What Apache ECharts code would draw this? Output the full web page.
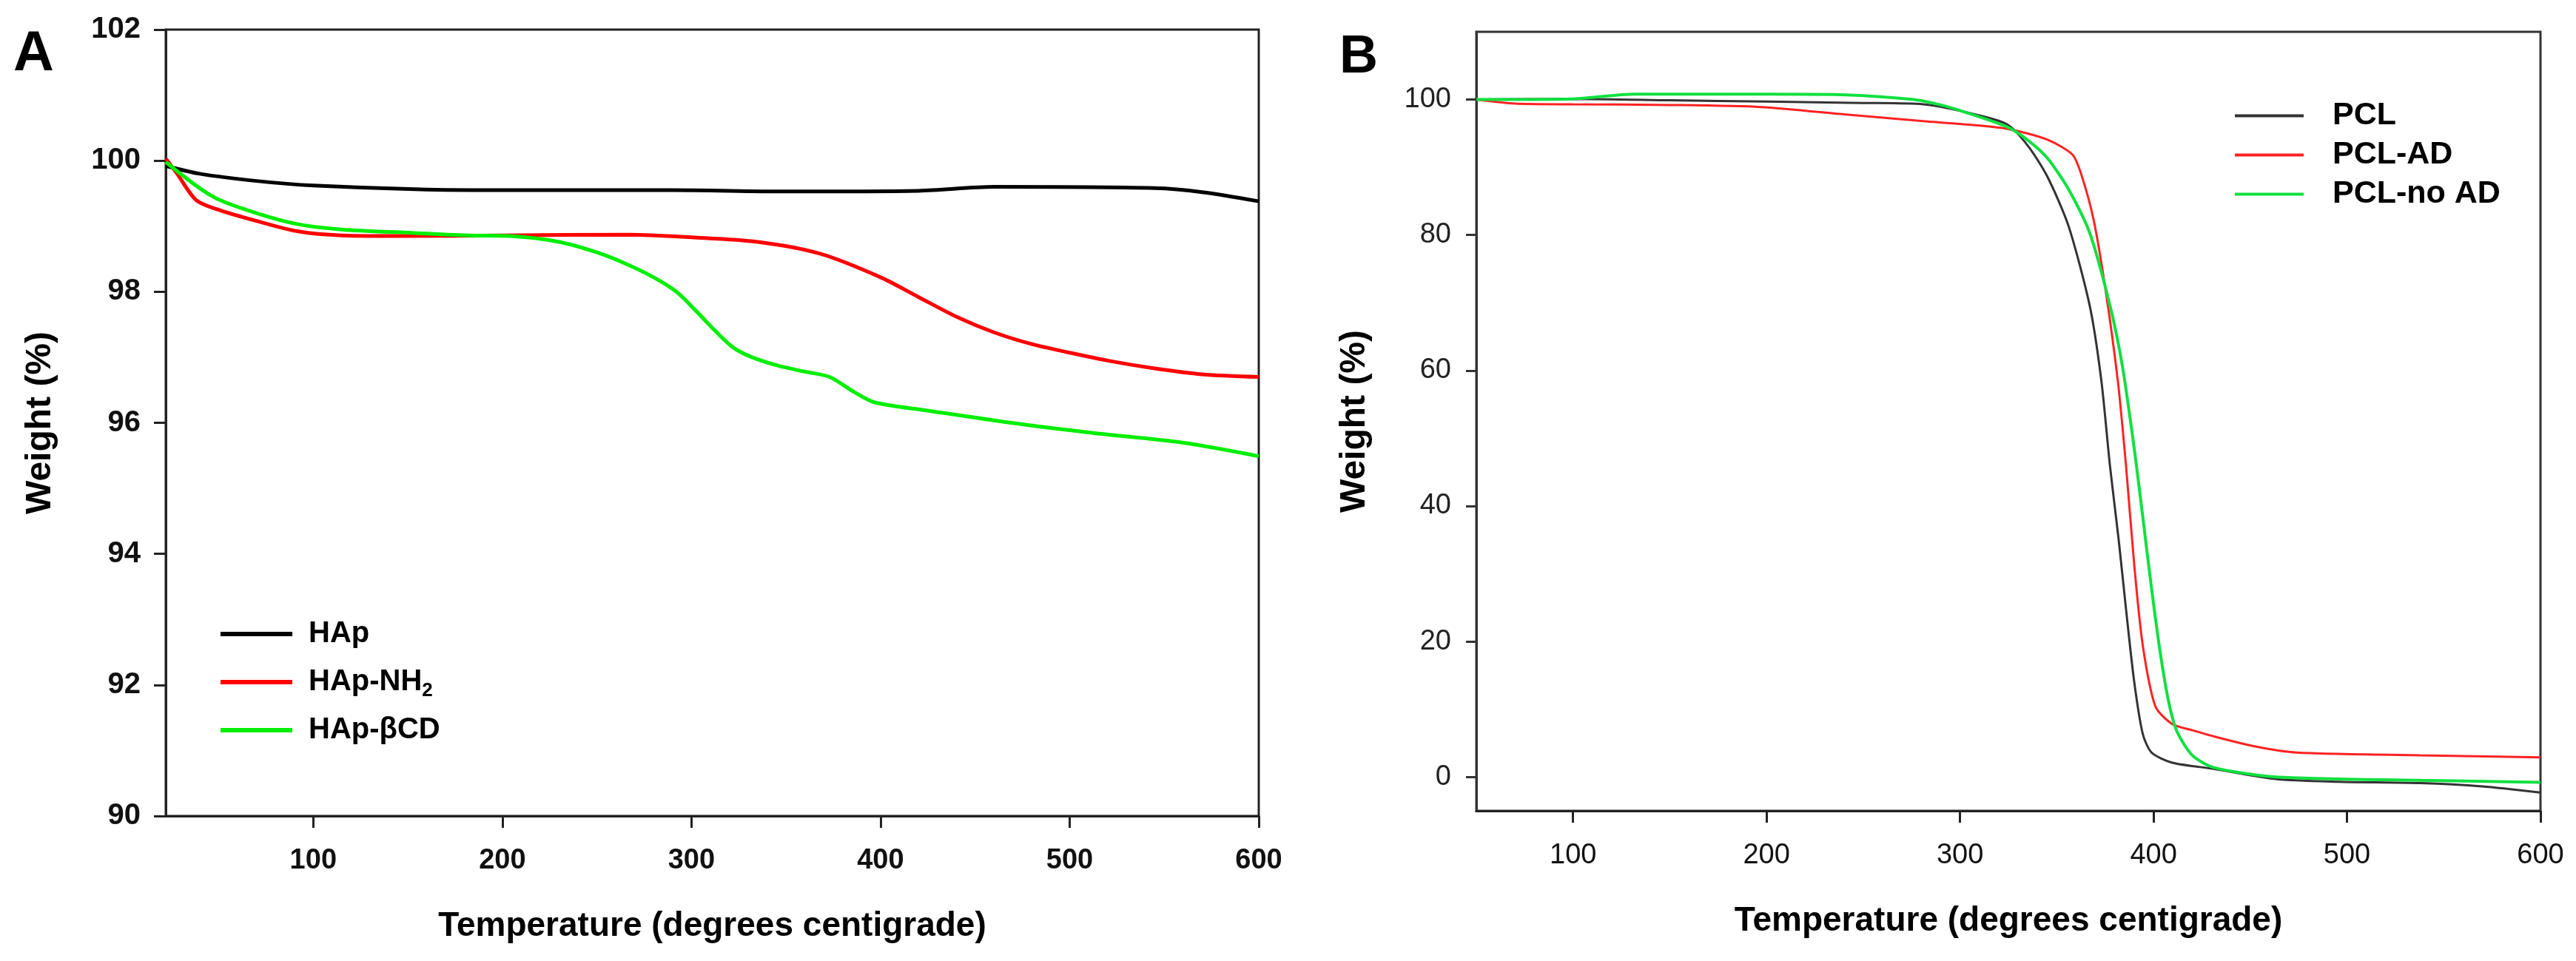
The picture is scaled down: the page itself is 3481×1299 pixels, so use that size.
<!DOCTYPE html>
<html style="height: 100%">
<head>
    <meta charset="utf-8">
</head>
<body style="height: 100%; margin: 0; background: #fff">
<div id="container" style="width: 3481px; height: 1299px"></div>
<script src="https://cdn.jsdelivr.net/npm/echarts@6/dist/echarts.min.js"></script>
<script type="text/javascript">
    var dom = document.getElementById("container");
    var myChart = echarts.init(dom);

    // panel A: HAp samples (temperature, weight %)
    const hapT = [22, 40, 70, 100, 160, 220, 290, 350, 420, 460, 545, 570, 600];
    const hapW = [99.92, 99.8, 99.69, 99.62, 99.56, 99.55, 99.55, 99.53, 99.54, 99.6, 99.58, 99.52, 99.38];

    const nh2T = [22, 28, 38, 50, 70, 92, 115, 150, 200, 267, 300, 335, 368, 400, 420, 440, 460, 480, 500, 520, 545, 570, 600];
    const nh2W = [100.03, 99.8, 99.4, 99.25, 99.08, 98.92, 98.86, 98.85, 98.86, 98.87, 98.83, 98.76, 98.58, 98.22, 97.92, 97.62, 97.38, 97.2, 97.07, 96.95, 96.83, 96.74, 96.7];

    const bcdT = [22, 47, 70, 92, 115, 150, 182, 204, 230, 250, 265, 280, 292, 302, 312, 322, 332, 346, 360, 373, 386, 397, 424, 469, 514, 559, 600];
    const bcdW = [99.98, 99.45, 99.2, 99.03, 98.95, 98.9, 98.86, 98.85, 98.76, 98.6, 98.43, 98.22, 98.0, 97.72, 97.42, 97.15, 97.0, 96.87, 96.78, 96.7, 96.47, 96.31, 96.19, 96.0, 95.84, 95.7, 95.49];

    // panel B: PCL samples
    const pclT = [50, 100, 150, 200, 250, 281, 302, 324, 335, 345, 356, 367, 373, 377.5, 382, 386, 390, 394.4, 399, 409.7, 431, 463, 495.5, 538, 570, 600];
    const pclW = [100, 100.1, 99.9, 99.7, 99.5, 99.3, 98.2, 96.4, 93.2, 88.7, 81.4, 69.6, 58.6, 45.9, 35.0, 24.2, 14.1, 6.4, 3.6, 2.1, 1.2, -0.3, -0.7, -0.9, -1.4, -2.3];

    const adT = [50, 70, 100, 150, 197, 241, 281, 300, 324, 345, 358, 362.5, 369, 375, 381.5, 385.8, 390, 394.4, 401, 409.7, 420, 431, 452.6, 474, 538, 600];
    const adW = [100, 99.4, 99.3, 99.2, 98.9, 97.8, 96.8, 96.4, 95.7, 94.1, 91.9, 89.1, 82.3, 72.3, 58.6, 45.9, 31.4, 19.5, 10.4, 7.8, 6.9, 6.0, 4.5, 3.6, 3.2, 2.9];

    const noadT = [50, 100, 131.7, 200, 241, 276, 290, 302, 324, 334.6, 345, 356, 366.8, 377.5, 384, 390.4, 394.7, 399, 403.3, 407.6, 412, 420, 431, 463, 538, 600];
    const noadW = [100, 100.1, 100.8, 100.8, 100.7, 100, 99.2, 98.2, 96.0, 94.1, 91.4, 86.8, 80.5, 69.6, 60.5, 47.7, 37.8, 27.8, 18.7, 11.4, 6.8, 3.2, 1.4, 0, -0.5, -0.8];

    // tick labels
    const xTicksA = [100, 200, 300, 400, 500, 600];
    const xTicksB = [100, 200, 300, 400, 500, 600];
    const yTicksB = [0, 20, 40, 60, 80, 100];

    function pairs(xs, ys) {
        return xs.map(function (x, i) { return [x, ys[i]]; });
    }

    const font = 'Liberation Sans, Arial, sans-serif';

    function xAxisBase(min, ticks, gridIndex, bold, name) {
        return {
            type: 'value', gridIndex: gridIndex, min: min, max: 600,
            axisLine: {show: true, onZero: false, lineStyle: {color: '#222', width: 3}},
            axisTick: {show: true, customValues: ticks, length: 16, lineStyle: {color: '#222', width: 3}},
            axisLabel: {customValues: ticks, margin: 42, color: '#111', fontSize: 38,
                fontWeight: bold ? 'bold' : 'normal', fontFamily: font},
            splitLine: {show: false},
            name: name, nameLocation: 'middle', nameGap: 126,
            nameTextStyle: {fontSize: 46, fontWeight: 'bold', color: '#000', fontFamily: font}
        };
    }

    var option = {
        backgroundColor: '#fff',
        animation: false,
        title: [
            {text: 'A', left: 18, top: 36, padding: 0,
                textStyle: {fontSize: 76, fontWeight: 'bold', color: '#000', fontFamily: font}},
            {text: 'B', left: 1810, top: 42, padding: 0,
                textStyle: {fontSize: 72, fontWeight: 'bold', color: '#000', fontFamily: font}}
        ],
        grid: [
            {left: 224, right: 1780, top: 40, bottom: 196, show: true, borderColor: '#222', borderWidth: 3,
                outerBoundsMode: 'none'},
            {left: 1995, right: 48, top: 43, bottom: 203, show: true, borderColor: '#333', borderWidth: 3,
                outerBoundsMode: 'none'}
        ],
        legend: [
            {
                orient: 'vertical', left: 293, top: 832, itemGap: 20,
                itemWidth: 97, itemHeight: 6, icon: 'rect',
                data: ['HAp', 'HAp-NH2', 'HAp-βCD'],
                formatter: function (name) {
                    return name === 'HAp-NH2' ? 'HAp-NH{sub|2}' : name;
                },
                textStyle: {fontSize: 40, fontWeight: 'bold', color: '#000', fontFamily: font,
                    padding: [0, 0, 0, 17], lineHeight: 40,
                    rich: {sub: {fontSize: 26, fontWeight: 'bold', fontFamily: font, color: '#000',
                        padding: [24, 0, 0, 0], lineHeight: 40}}}
            },
            {
                orient: 'vertical', left: 3015, top: 130, itemGap: 10,
                itemWidth: 93, itemHeight: 4, icon: 'rect',
                data: ['PCL', 'PCL-AD', 'PCL-no AD'],
                textStyle: {fontSize: 43, fontWeight: 'bold', color: '#000', fontFamily: font,
                    padding: [0, 0, 0, 34], lineHeight: 43}
            }
        ],
        xAxis: [
            xAxisBase(22, xTicksA, 0, true, 'Temperature (degrees centigrade)'),
            xAxisBase(50, xTicksB, 1, false, 'Temperature (degrees centigrade)')
        ],
        yAxis: [
            {
                type: 'value', gridIndex: 0, min: 90, max: 102, interval: 2,
                axisLine: {show: true, lineStyle: {color: '#222', width: 3}},
                axisTick: {show: true, length: 16, lineStyle: {color: '#222', width: 3}},
                axisLabel: {margin: 34, color: '#111', fontSize: 40, fontWeight: 'bold', fontFamily: font},
                splitLine: {show: false},
                name: 'Weight (%)', nameLocation: 'middle', nameGap: 145,
                nameTextStyle: {fontSize: 48, fontWeight: 'bold', color: '#000', fontFamily: font}
            },
            {
                type: 'value', gridIndex: 1, min: -5, max: 110,
                axisLine: {show: true, lineStyle: {color: '#333', width: 3}},
                axisTick: {show: true, customValues: yTicksB, length: 14, lineStyle: {color: '#333', width: 3}},
                axisLabel: {customValues: yTicksB, margin: 34, color: '#222', fontSize: 38, fontFamily: font},
                splitLine: {show: false},
                name: 'Weight (%)', nameLocation: 'middle', nameGap: 140,
                nameTextStyle: {fontSize: 48, fontWeight: 'bold', color: '#000', fontFamily: font}
            }
        ],
        series: [
            {name: 'HAp', type: 'line', xAxisIndex: 0, yAxisIndex: 0, data: pairs(hapT, hapW),
                symbol: 'none', smooth: 0.3, color: '#000', lineStyle: {width: 5}},
            {name: 'HAp-NH2', type: 'line', xAxisIndex: 0, yAxisIndex: 0, data: pairs(nh2T, nh2W),
                symbol: 'none', smooth: 0.3, color: '#ff0000', lineStyle: {width: 5}},
            {name: 'HAp-βCD', type: 'line', xAxisIndex: 0, yAxisIndex: 0, data: pairs(bcdT, bcdW),
                symbol: 'none', smooth: 0.3, color: '#00ee00', lineStyle: {width: 5}},
            {name: 'PCL', type: 'line', xAxisIndex: 1, yAxisIndex: 1, data: pairs(pclT, pclW),
                symbol: 'none', smooth: 0.25, color: '#333', lineStyle: {width: 3}},
            {name: 'PCL-AD', type: 'line', xAxisIndex: 1, yAxisIndex: 1, data: pairs(adT, adW),
                symbol: 'none', smooth: 0.25, color: '#ff2222', lineStyle: {width: 3}},
            {name: 'PCL-no AD', type: 'line', xAxisIndex: 1, yAxisIndex: 1, data: pairs(noadT, noadW),
                symbol: 'none', smooth: 0.25, color: '#11e040', lineStyle: {width: 4}}
        ]
    };

    if (option && typeof option === 'object') {
        myChart.setOption(option);
    }
</script>
</body>
</html>
